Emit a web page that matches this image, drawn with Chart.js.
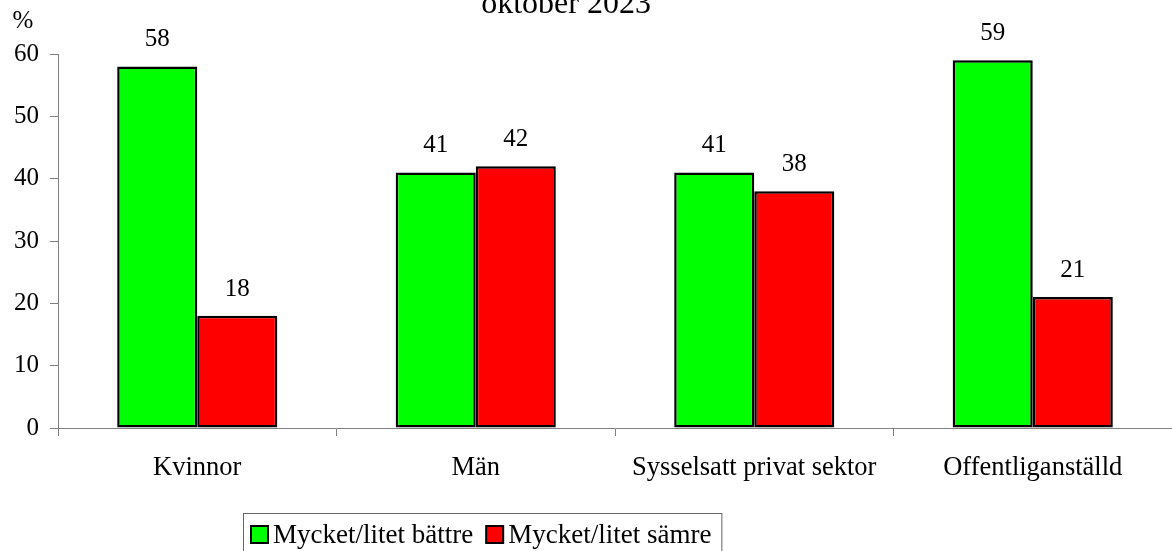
<!DOCTYPE html>
<html>
<head>
<meta charset="utf-8">
<script src="https://cdn.jsdelivr.net/npm/chart.js@4.4.0/dist/chart.umd.min.js"></script>
<style>
  html, body { margin: 0; padding: 0; background: #fff; }
  #wrap { width: 1172px; height: 551px; position: relative; }
</style>
</head>
<body>
<div id="wrap"><canvas id="myChart"></canvas></div>
<script>
// data
const kategorier = ['Kvinnor', 'Män', 'Sysselsatt privat sektor', 'Offentliganställd'];
const battre = [58, 41, 41, 59];
const samre = [18, 42, 38, 21];
const serieNamn = ['Mycket/litet bättre', 'Mycket/litet sämre'];
const titel = 'oktober 2023';
const enhet = '%';

const serif = '"Liberation Serif", "Times New Roman", serif';

// values above bars
const etiketter = {
    id: 'etiketter',
    afterDatasetsDraw(chart) {
        const ctx = chart.ctx;
        ctx.save();
        ctx.font = '25px ' + serif;
        ctx.fillStyle = '#000';
        ctx.textAlign = 'center';
        ctx.textBaseline = 'alphabetic';
        chart.data.datasets.forEach((ds, i) => {
            chart.getDatasetMeta(i).data.forEach((bar, j) => {
                ctx.fillText(ds.data[j], bar.x, bar.y - 20);
            });
        });
        ctx.restore();
    }
};

// title, unit and boxed legend
const extra = {
    id: 'extra',
    afterDraw(chart) {
        const ctx = chart.ctx;
        ctx.save();
        ctx.fillStyle = '#000';
        ctx.textBaseline = 'alphabetic';
        ctx.textAlign = 'center';
        ctx.font = '32px ' + serif;
        ctx.fillText(titel, 566, 13);
        ctx.font = '25px ' + serif;
        ctx.fillText(enhet, 23, 28);

        // legend
        ctx.font = '27px ' + serif;
        ctx.textAlign = 'left';
        let x = 251;
        const startX = 243;
        chart.data.datasets.forEach((ds, i) => {
            ctx.fillStyle = ds.backgroundColor;
            ctx.fillRect(x, 526, 17, 17);
            ctx.strokeStyle = '#000';
            ctx.lineWidth = 2;
            ctx.strokeRect(x, 526, 17, 17);
            x += 22;
            ctx.fillStyle = '#000';
            ctx.fillText(ds.label, x, 543);
            x += ctx.measureText(ds.label).width;
            if (i < chart.data.datasets.length - 1) x += 13;
        });
        x += 10;
        ctx.strokeStyle = '#666';
        ctx.lineWidth = 1;
        ctx.strokeRect(startX + 0.5, 513.5, x - startX, 60);
        ctx.restore();
    }
};

const ctx = document.getElementById('myChart');
const myChart = new Chart(ctx, {
    type: 'bar',
    data: {
        labels: kategorier,
        datasets: [{
            label: serieNamn[0],
            data: battre,
            backgroundColor: '#00ff00',
            borderColor: '#000',
            borderWidth: 2.5,
            borderSkipped: false
        }, {
            label: serieNamn[1],
            data: samre,
            backgroundColor: '#ff0000',
            borderColor: '#000',
            borderWidth: 2.5,
            borderSkipped: false
        }]
    },
    options: {
        responsive: true,
        maintainAspectRatio: false,
        animation: false,
        datasets: {
            bar: { categoryPercentage: 0.575, barPercentage: 1.0 }
        },
        layout: { padding: { top: 54, left: 0, right: 0, bottom: 0 } },
        plugins: {
            legend: { display: false },
            title: { display: false },
            tooltip: { enabled: false }
        },
        scales: {
            x: {
                offset: true,
                grid: { display: true, drawOnChartArea: false, offset: true, tickLength: 8, color: '#808080' },
                border: { color: '#808080', width: 1 },
                ticks: { color: '#000', font: { family: serif, size: 26.5 }, padding: 16, maxRotation: 0 },
                afterFit(scale) { scale.height = 123; }
            },
            y: {
                min: 0,
                max: 60,
                ticks: { stepSize: 10, color: '#000', font: { family: serif, size: 25 }, padding: 11 },
                grid: { display: true, drawOnChartArea: false, tickLength: 8, color: '#808080' },
                border: { color: '#808080', width: 1 },
                afterFit(scale) { scale.width = 58; }
            }
        }
    },
    plugins: [etiketter, extra]
});
</script>
</body>
</html>
